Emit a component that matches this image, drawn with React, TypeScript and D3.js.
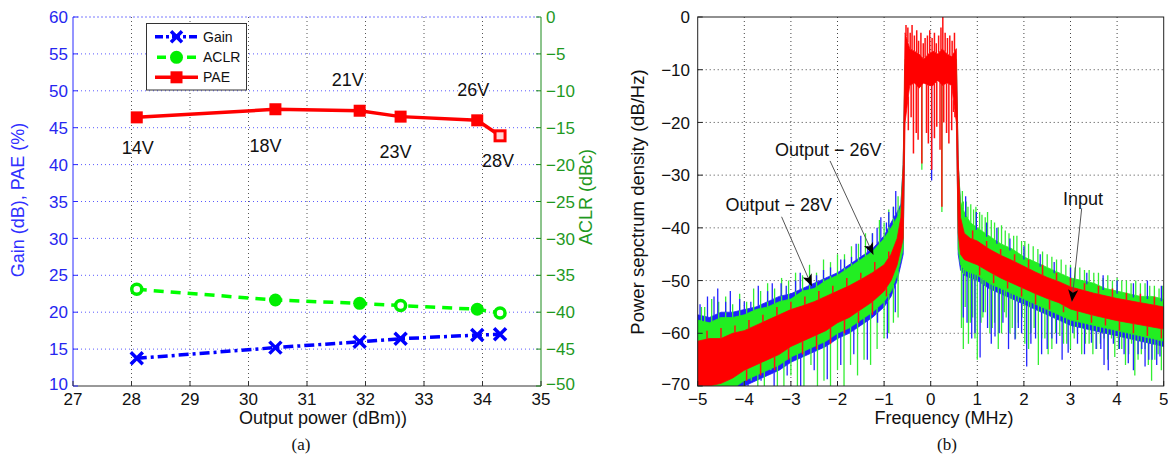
import React from 'react';
import * as d3 from 'd3';

// ---------- (a) data ----------
const powerOut = [28.09, 30.46, 31.9, 32.6, 33.91, 34.3];
const gainDb = [13.75, 15.2, 16.0, 16.4, 16.9, 17.0];
const aclrDbc = [-36.9, -38.35, -38.8, -39.1, -39.6, -40.1];
const paePct = [46.4, 47.5, 47.3, 46.5, 46.0, 43.9];
const aclrHollow = [true, false, false, true, false, true];
const supplyLabels = ['14V', '18V', '21V', '23V', '26V', '28V'];
const xTicksA = [27, 28, 29, 30, 31, 32, 33, 34, 35];
const yTicksLeft = [10, 15, 20, 25, 30, 35, 40, 45, 50, 55, 60];
const yTicksRight = [-50, -45, -40, -35, -30, -25, -20, -15, -10, -5, 0];

// ---------- (b) data ----------
const freqs = [-5, -4.75, -4.5, -4.25, -4, -3.75, -3.5, -3.25, -3, -2.75, -2.5, -2.25, -2, -1.75, -1.5, -1.25, -1, -0.85, -0.72, -0.64, -0.59, -0.55, -0.45, -0.35, -0.25, -0.15, -0.05, 0.05, 0.15, 0.25, 0.35, 0.45, 0.55, 0.59, 0.64, 0.72, 0.85, 1, 1.25, 1.5, 1.75, 2, 2.25, 2.5, 2.75, 3, 3.25, 3.5, 3.75, 4, 4.25, 4.5, 4.75, 5];
const redHi = [-61.5, -61, -61, -60, -59.5, -58.5, -57.5, -56.5, -55.5, -54.8, -54, -53, -52, -51, -49.8, -48.5, -47, -45, -42, -38, -28, -3, -6, -6.5, -7, -8, -7, -6.5, -7, -6, -7, -7.5, -6, -27, -38, -41, -42, -42.5, -44, -45.2, -46.2, -47.3, -48.4, -49.4, -50.2, -51.2, -51.8, -52.4, -52.9, -53.4, -53.8, -54.2, -54.6, -55];
const redLo = [-70.5, -70, -69.5, -68.5, -67, -66, -65, -64, -62.5, -61.5, -60.5, -59.5, -58, -57, -55.5, -54, -52, -50, -47, -44, -42, -20, -13, -12.5, -13.5, -12.5, -13, -13, -12, -13, -12.5, -13, -20, -41, -45, -46, -46.5, -47, -48.3, -49.5, -50.5, -51.5, -52.5, -53.4, -54.2, -55.4, -56, -56.6, -57.1, -57.6, -58, -58.4, -58.8, -59.2];
const greenHi = [-57.5, -58, -57, -57, -56.5, -55.5, -55, -54, -53.5, -52, -51.5, -50, -49, -47.5, -46, -44.5, -42, -40, -38, -36, -28, -8, -8, -8, -8, -8, -8, -8, -8, -8, -8, -8, -8, -28, -35, -37, -39, -40, -41.5, -43, -44, -45.5, -46.5, -47.5, -48.5, -49.5, -50, -50.5, -51.5, -52, -52.5, -53, -53, -53.5];
const greenLo = [-70.5, -70.5, -70.5, -70.5, -69, -68, -67, -66, -64.5, -63.5, -62.5, -61.5, -60, -59, -57.5, -56, -54, -52, -49, -46, -44, -12, -12, -12, -12, -12, -12, -12, -12, -12, -12, -12, -12, -44, -47, -48, -48.5, -49, -50.5, -51.5, -52.5, -53.5, -54.5, -55.5, -56.5, -57.5, -58, -58.5, -59, -59.5, -60, -60.5, -61, -61.5];
const blueHi = [-56.5, -57, -56, -56, -55.5, -55, -54, -53, -52.5, -51.5, -50.5, -49.5, -48.5, -47, -45.5, -44, -41.5, -39, -37, -35.5, -28, -9, -9, -9, -9, -9, -9, -9, -9, -9, -9, -9, -9, -28, -35.5, -37.5, -39.5, -40.5, -42, -43.5, -44.5, -46, -47, -48, -49, -50, -50.5, -51, -52, -52.5, -53, -53.5, -53.5, -54];
const blueLo = [-70.5, -70.5, -70.5, -70.5, -70, -69, -68, -67, -65.5, -64.5, -63.5, -62.5, -61, -60, -58.5, -57, -55, -53, -50, -47, -45, -12, -12, -12, -12, -12, -12, -12, -12, -12, -12, -12, -12, -45, -48, -49, -49.5, -50, -51.5, -52.5, -53.5, -54.5, -55.5, -56.5, -57.5, -58.5, -59, -59.5, -60, -60.5, -61, -61.5, -62, -62.5];

// individual spikes (frequency, extreme value)
const greenDownF = [-4.9, -4.75, -4.6, -4.45, -4.3, -4.15, -4.0, -3.85, -3.71, -3.57, -3.43, -3.29, -3.15, -3.0, -2.86, -2.72, -2.57, -2.43, -2.29, -2.15, -2.0, -1.86, -1.72, -1.57, -1.43, -1.29, -1.15, -1.0, -0.9, -0.8, -0.7, -0.19, 0.24, 0.66, 0.74, 0.81, 0.9, 1.0, 1.08, 1.17, 1.27, 1.37, 1.52, 1.62, 1.75, 1.88, 2.02, 2.15, 2.31, 2.45, 2.6, 2.77, 2.92, 3.08, 3.24, 3.4, 3.56, 3.72, 3.95, 4.1, 4.25, 4.38, 4.52, 4.67, 4.81, 4.95,
  0.7, 0.85, 0.95, 1.12, 1.32, 1.45, 1.58, 1.7, 1.82, 1.96, 2.1, 2.22, 2.38, 2.52, 2.68, 2.85, 3.0, 3.15, 3.32, 3.48, 3.64, 3.8, 3.88, 4.03, 4.18, 4.31, 4.45, 4.6, 4.74, 4.88];
const greenDownV = [-70, -70, -70, -70, -70, -70, -70, -69, -70, -70, -67, -70, -70, -68, -70, -70, -66, -70, -69, -70, -67, -70, -66, -68, -65, -66, -63, -61, -60, -58, -57, -29, -37, -59, -55, -62, -57, -65, -58, -56, -60, -58, -60, -57, -59, -58, -62, -60, -66, -61, -63, -60.5, -62, -61, -64, -62, -63, -61, -64.5, -63, -64, -68, -64, -66, -65, -67,
  -63, -58, -61, -57, -59, -63, -56, -60, -61, -57, -63, -59, -61, -64, -60, -62, -63, -60, -62, -64, -62, -65, -61, -63, -66, -62, -65, -63, -69, -64];
const greenUpF = [-4.85, -4.55, -4.25, -3.95, -3.65, -3.35, -3.05, -2.75, -2.45, -2.15, -1.85, -1.55, -1.25, -1.0, -0.8, 0.7, 0.8, 0.92, 1.05, 1.17, 1.3, 1.45, 1.6, 1.78, 1.95, 2.1, 2.3, 2.5, 2.7, 2.9, 3.1, 3.3, 3.5, 3.7, 3.9, 4.1, 4.3, 4.5, 4.7, 4.9,
  -4.92, -4.7, -4.4, -4.1, -3.8, -3.5, -3.2, -2.9, -2.6, -2.3, -2.0, -1.7, -1.4, -1.1, -0.9, -0.7,
  0.68, 0.76, 0.86, 0.97, 1.1, 1.22, 1.37, 1.52, 1.68, 1.85, 2.02, 2.2, 2.4, 2.6, 2.8, 3.0, 3.2, 3.4, 3.6, 3.8, 4.0, 4.2, 4.4, 4.6, 4.8, 4.98];
const greenUpV = [-55, -54, -54.5, -54, -52, -51.5, -50, -49, -48.5, -46.5, -45, -43, -41, -39, -36, -35, -36, -36.5, -37, -38, -38.5, -40, -40.5, -41.5, -42.5, -43, -44, -45, -46, -47, -47.5, -48, -48.5, -49.5, -50, -50, -50.5, -50.5, -51, -51.5,
  -55, -53.5, -53, -52.5, -51.5, -50.5, -49.5, -48.5, -47, -46, -45, -43.5, -41, -38.5, -36.5, -34,
  -33, -35, -35.5, -36, -37.5, -37, -39, -39.5, -41, -41.5, -42.5, -43.5, -44.5, -45.5, -46, -47, -47.5, -48, -48.5, -49, -49.5, -50, -50, -50.5, -51, -51];
const blueDownF = [-4.82, -4.52, -4.22, -3.92, -3.64, -3.36, -3.08, -2.79, -2.5, -2.22, -1.93, -1.65, -1.36, -1.14, -0.93, -0.76, 0.02, 0.7, 0.95, 1.06, 1.22, 1.38, 1.55, 1.81, 1.95, 2.06, 2.25, 2.5, 2.7, 2.95, 3.15, 3.45, 3.65, 3.81, 4.05, 4.24, 4.45, 4.6, 4.75, 4.92,
  0.78, 0.88, 1.13, 1.3, 1.47, 1.67, 1.88, 2.15, 2.38, 2.6, 2.82, 3.05, 3.3, 3.55, 3.72, 3.92, 4.15, 4.35, 4.53, 4.68, 4.85];
const blueDownV = [-70, -70, -70, -70, -69, -70, -68, -70, -67, -68.7, -66, -64, -65, -58, -61, -56, -31, -57, -60, -64.6, -59, -60.6, -58, -61.2, -60, -66.3, -61, -63, -62, -63.7, -62, -61.8, -63, -67, -63, -65.7, -64, -66.3, -65, -64.4,
  -58, -61, -56, -62, -60, -63, -59, -62, -64, -61, -65, -60, -64, -63, -66, -62, -64, -67, -63, -65, -66];
const blueUpF = [-4.79, -4.57, -4.4, -4.1, -3.86, -3.5, -3.21, -2.9, -2.6, -2.3, -1.93, -1.7, -1.5, -1.25, -1.07, -0.9, -0.75, 0.75, 0.98, 1.2, 1.42, 1.7, 2.0, 2.35, 2.65, 3.0, 3.35, 3.7, 4.0, 4.35, 4.65, 4.95,
  -4.95, -4.65, -4.3, -4.0, -3.7, -3.4, -3.1, -2.8, -2.45, -2.15, -1.85, -1.6, -1.35, -1.15, -0.95, -0.8];
const blueUpV = [-53, -51.5, -54, -53.5, -54, -52, -50.5, -50, -49.5, -48, -46, -45.5, -41.5, -41, -38, -37, -33, -34, -37, -39, -40, -42, -43.5, -45, -46.5, -47.5, -48.5, -49, -50, -50.5, -50, -51,
  -54.5, -53, -52, -54, -51, -50.5, -51, -48.5, -49, -47.5, -46, -43, -43.5, -40, -39, -36];
const redUpF = [-4.8, -4.5, -4.2, -3.9, -3.6, -3.3, -3.0, -2.7, -2.4, -2.1, -1.8, -1.5, -1.2, -0.9, -0.53, -0.49, -0.44, -0.4, -0.35, -0.3, -0.26, -0.21, -0.16, -0.12, -0.07, -0.02, 0.03, 0.08, 0.12, 0.17, 0.22, 0.26, 0.31, 0.36, 0.41, 0.46, 0.51, 0.9, 1.2, 1.5, 1.8, 2.1, 2.4, 2.7, 3.0, 3.3, 3.6, 3.9, 4.2, 4.5, 4.8];
const redUpV = [-59.5, -59, -58.5, -57.5, -56.5, -55, -54, -53, -52, -51, -49.5, -48.5, -46.5, -44.5, -1.5, -2, -3, -1.5, -3.5, -2.5, -4.5, -3, -5, -4, -3.5, -2.5, -4, -3, -5, -3.5, -2, 0, -3, -4, -3.5, -4.5, -3, -40.5, -42.5, -44, -45, -46, -47, -48.5, -49.5, -50.5, -51, -51.5, -52.3, -52.5, -53];
const redDownF = [-3.95, -3.65, -3.35, -3.05, -2.75, -2.45, -2.15, -1.85, -1.55, -1.25, -0.95, -0.48, -0.42, -0.37, -0.31, -0.27, -0.19, -0.09, -0.05, 0.02, 0.08, 0.13, 0.2, 0.24, 0.28, 0.34, 0.39, 0.45, 0.49, 0.52, 1.05, 1.35, 1.65, 1.95, 2.25, 2.55, 2.85, 3.15, 3.45, 3.75, 4.05, 4.35, 4.65, 4.95];
const redDownV = [-69, -68, -67, -65, -64, -63, -62, -60, -58, -56.5, -53, -21.5, -19, -25.9, -22, -23.3, -27.8, -22, -24, -29, -23, -20.8, -25.2, -36, -20, -22, -24, -21.5, -18, -19, -49, -50.5, -51.5, -53, -54.5, -55.5, -56, -57.5, -58, -58.5, -59.5, -60, -60.5, -61];
const xTicksB = [-5, -4, -3, -2, -1, 0, 1, 2, 3, 4, 5];
const yTicksB = [-70, -60, -50, -40, -30, -20, -10, 0];

// annotations: text position, arrow start, arrow tip (data coords of panel b)
const annoText = ['Output \u2212 26V', 'Output \u2212 28V', 'Input'];
const annoTextF = [-2.2, -3.26, 3.27];
const annoTextV = [-26.4, -36.8, -35.7];
const annoFromF = [-2.16, -3.2, 3.24];
const annoFromV = [-27.3, -37.9, -36.3];
const annoTipF = [-1.23, -2.55, 3.03];
const annoTipV = [-45.1, -51.1, -54.0];

const FONT = '"Liberation Sans", Arial, Helvetica, sans-serif';

export default function App() {
  const xA = d3.scaleLinear().domain([27, 35]).range([73, 541]);
  const yL = d3.scaleLinear().domain([10, 60]).range([386, 17]);
  const yR = d3.scaleLinear().domain([-50, 0]).range([386, 17]);
  const xB = d3.scaleLinear().domain([-5, 5]).range([697.7, 1163.7]);
  const yB = d3.scaleLinear().domain([-70, 0]).range([386, 17]);

  const gainPath = d3.line<number>().x((_, i) => xA(powerOut[i])).y((d) => yL(d))(gainDb) || '';
  const paePath = d3.line<number>().x((_, i) => xA(powerOut[i])).y((d) => yL(d))(paePct) || '';
  const aclrPath = d3.line<number>().x((_, i) => xA(powerOut[i])).y((d) => yR(d))(aclrDbc) || '';

  const band = (hi: number[], lo: number[]) =>
    d3.area<number>().x((f) => xB(f)).y0((_, i) => yB(lo[i])).y1((_, i) => yB(hi[i]))(freqs) || '';

  const interp = (arr: number[]) => d3.scaleLinear().domain(freqs).range(arr);
  const rLo = interp(redLo), gLo = interp(greenLo), bLo = interp(blueLo);
  const rHi = interp(redHi), gHi = interp(greenHi), bHi = interp(blueHi);

  const spikes = (F: number[], V: number[], base: (f: number) => number, color: string, key: string, w = 1.3) =>
    F.map((f, i) => (
      <line key={key + i} x1={xB(f)} x2={xB(f)} y1={yB(base(f))} y2={yB(V[i])} stroke={color} strokeWidth={w} />
    ));

  const xMarker = (cx: number, cy: number, s: number, key: string) => (
    <path key={key} d={`M${cx - s},${cy - s}L${cx + s},${cy + s}M${cx - s},${cy + s}L${cx + s},${cy - s}`} stroke="#0000ff" strokeWidth={3.5} />
  );

  const labelDx = [1, -10, -12, -5, -4, -2];
  const labelDy = [37, 43, -25, 41, -24, 31];

  return (
    <svg width={1168} height={458} style={{ position: 'absolute', left: 0, top: 0, background: '#fff' }} fontFamily={FONT}>
      <defs>
        <clipPath id="clipB">
          <rect x={697.7} y={17} width={466} height={369} />
        </clipPath>
        <marker id="arrowHead" viewBox="0 0 12 10" refX={12} refY={5} markerWidth={13} markerHeight={10} orient="auto" markerUnits="userSpaceOnUse">
          <path d="M0,0 L12,5 L0,10 L3,5 Z" fill="#000" />
        </marker>
      </defs>
      <rect x={0} y={0} width={1168} height={458} fill="#fff" />

      {/* ================= Panel (a) ================= */}
      {xTicksA.slice(1, -1).map((t) => (
        <line key={'gxa' + t} x1={xA(t)} x2={xA(t)} y1={17} y2={386} stroke="#555" strokeWidth={1} strokeDasharray="1,3" />
      ))}
      {yTicksLeft.slice(1, -1).map((t) => (
        <line key={'gya' + t} x1={73} x2={541} y1={yL(t)} y2={yL(t)} stroke="#5a5aff" strokeWidth={1} strokeDasharray="1,3" />
      ))}
      <line x1={73} x2={541} y1={17} y2={17} stroke="#7a7aff" strokeWidth={1} strokeDasharray="2,2" />
      <line x1={73} x2={541} y1={386} y2={386} stroke="#333" strokeWidth={1} />
      <line x1={73} x2={73} y1={17} y2={386} stroke="#2a2aff" strokeWidth={1} />
      <line x1={541} x2={541} y1={17} y2={386} stroke="#1a8a1a" strokeWidth={1} />
      {yTicksLeft.map((t) => (
        <g key={'tl' + t}>
          <line x1={73} x2={78} y1={yL(t)} y2={yL(t)} stroke="#2a2aff" />
          <text x={68} y={yL(t) - (t === 10 ? 2 : 0)} dy="0.36em" textAnchor="end" fontSize={17} fill="#2626f0">{t}</text>
        </g>
      ))}
      {yTicksRight.map((t) => (
        <g key={'tr' + t}>
          <line x1={536} x2={541} y1={yR(t)} y2={yR(t)} stroke="#1a8a1a" />
          <text x={546} y={yR(t) - (t === -50 ? 2 : 0)} dy="0.36em" textAnchor="start" fontSize={17} fill="#1f991f">{t < 0 ? '\u2212' + Math.abs(t) : t}</text>
        </g>
      ))}
      {xTicksA.map((t) => (
        <g key={'tx' + t}>
          <line x1={xA(t)} x2={xA(t)} y1={386} y2={381} stroke="#333" />
          <text x={xA(t)} y={405} textAnchor="middle" fontSize={17} fill="#111">{t}</text>
        </g>
      ))}
      <text x={323} y={424} textAnchor="middle" fontSize={18} fill="#111">Output power (dBm))</text>
      <text transform="translate(18,200) rotate(-90)" dy="0.35em" textAnchor="middle" fontSize={18} fill="#3030ff">Gain (dB), PAE (%)</text>
      <text transform="translate(586,197) rotate(-90)" dy="0.35em" textAnchor="middle" fontSize={18} fill="#1f991f">ACLR (dBc)</text>

      <path d={gainPath} fill="none" stroke="#0000ff" strokeWidth={3.5} strokeDasharray="10,4,3,4" />
      {gainDb.map((g, i) => xMarker(xA(powerOut[i]), yL(g), 6, 'gm' + i))}
      <path d={aclrPath} fill="none" stroke="#00ff00" strokeWidth={3.5} strokeDasharray="10,7" />
      {aclrDbc.map((a, i) =>
        aclrHollow[i] ? (
          <circle key={'am' + i} cx={xA(powerOut[i])} cy={yR(a)} r={5} fill="#fff" stroke="#00ee00" strokeWidth={3.5} />
        ) : (
          <circle key={'am' + i} cx={xA(powerOut[i])} cy={yR(a)} r={6.5} fill="#00ee00" />
        )
      )}
      <path d={paePath} fill="none" stroke="#ff0000" strokeWidth={3.5} />
      {paePct.map((p, i) =>
        i === paePct.length - 1 ? (
          <rect key={'pm' + i} x={xA(powerOut[i]) - 5} y={yL(p) - 5} width={10} height={10} fill="#ffd6d6" stroke="#ff0000" strokeWidth={3} />
        ) : (
          <rect key={'pm' + i} x={xA(powerOut[i]) - 6} y={yL(p) - 6} width={12} height={12} fill="#ff0000" />
        )
      )}
      {supplyLabels.map((s, i) => (
        <text key={'sl' + s} x={xA(powerOut[i]) + labelDx[i]} y={yL(paePct[i]) + labelDy[i]} textAnchor="middle" fontSize={18} fill="#111">{s}</text>
      ))}

      <rect x={146.5} y={23.5} width={100} height={66.5} fill="#fff" stroke="#333" strokeWidth={1} />
      <line x1={155} x2={198} y1={36.7} y2={36.7} stroke="#0000ff" strokeWidth={3.5} strokeDasharray="8,3,3,3" />
      {xMarker(176.5, 36.7, 5.5, 'lg1')}
      <text x={203} y={36.7} dy="0.36em" fontSize={14} fill="#111">Gain</text>
      <line x1={155} x2={198} y1={57.3} y2={57.3} stroke="#00ff00" strokeWidth={3.5} strokeDasharray="9,6" strokeDashoffset={-2} />
      <circle cx={176.5} cy={57.3} r={6.5} fill="#00ee00" />
      <text x={203} y={57.3} dy="0.36em" fontSize={14} fill="#111">ACLR</text>
      <line x1={155} x2={198} y1={77.3} y2={77.3} stroke="#ff0000" strokeWidth={3.5} />
      <rect x={170.5} y={71.3} width={12} height={12} fill="#ff0000" />
      <text x={203} y={77.3} dy="0.36em" fontSize={14} fill="#111">PAE</text>

      <text x={301} y={450} textAnchor="middle" fontSize={17} fontFamily='"Liberation Serif", "Times New Roman", serif' fill="#111">(a)</text>

      {/* ================= Panel (b) ================= */}
      {xTicksB.slice(1, -1).map((t) => (
        <line key={'gxb' + t} x1={xB(t)} x2={xB(t)} y1={17} y2={386} stroke="#444" strokeWidth={1} strokeDasharray="1,3" />
      ))}
      {yTicksB.slice(1, -1).map((t) => (
        <line key={'gyb' + t} x1={697.7} x2={1163.7} y1={yB(t)} y2={yB(t)} stroke="#444" strokeWidth={1} strokeDasharray="1,3" />
      ))}

      <g clipPath="url(#clipB)">
        <path d={band(blueHi, blueLo)} fill="#2020ff" stroke="#2020ff" strokeWidth={0.8} />
        <path d={band(greenHi, greenLo)} fill="#22ee22" stroke="#22ee22" strokeWidth={0.8} />
        {spikes(greenDownF, greenDownV, gLo, '#33ee33', 'gd')}
        {spikes(greenUpF, greenUpV, gHi, '#33ee33', 'gu')}
        {spikes(blueDownF, blueDownV, bLo, '#2424ff', 'bd')}
        {spikes(blueUpF, blueUpV, bHi, '#2424ff', 'bu')}
        <path d={band(redHi, redLo)} fill="#ff0000" stroke="#ff0000" strokeWidth={0.8} />
        {spikes(redUpF, redUpV, rHi, '#ff1010', 'ru', 1.5)}
        {spikes(redDownF, redDownV, rLo, '#ff1010', 'rd', 1.5)}
      </g>

      <rect x={697.7} y={17} width={466} height={369} fill="none" stroke="#222" strokeWidth={1} />
      {yTicksB.map((t) => (
        <g key={'tyb' + t}>
          <line x1={697.7} x2={702.7} y1={yB(t)} y2={yB(t)} stroke="#222" />
          <text x={690} y={yB(t) - (t === -70 ? 2 : 0)} dy="0.36em" textAnchor="end" fontSize={17} fill="#111">{t < 0 ? '\u2212' + Math.abs(t) : t}</text>
        </g>
      ))}
      {xTicksB.map((t) => (
        <g key={'txb' + t}>
          <line x1={xB(t)} x2={xB(t)} y1={386} y2={381} stroke="#222" />
          <text x={xB(t)} y={405} textAnchor="middle" fontSize={17} fill="#111">{t < 0 ? '\u2212' + Math.abs(t) : t}</text>
        </g>
      ))}
      <text x={944} y={424} textAnchor="middle" fontSize={18} fill="#111">Frequency (MHz)</text>
      <text transform="translate(638,202) rotate(-90)" dy="0.35em" textAnchor="middle" fontSize={18.5} fill="#111">Power sepctrum density (dB/Hz)</text>

      {annoText.map((t, i) => (
        <g key={'an' + i}>
          <line x1={xB(annoFromF[i])} y1={yB(annoFromV[i])} x2={xB(annoTipF[i])} y2={yB(annoTipV[i])} stroke="#555" strokeWidth={1} markerEnd="url(#arrowHead)" />
          <text x={xB(annoTextF[i])} y={yB(annoTextV[i])} textAnchor="middle" fontSize={18} fill="#111">{t}</text>
        </g>
      ))}

      <text x={947} y={450} textAnchor="middle" fontSize={17} fontFamily='"Liberation Serif", "Times New Roman", serif' fill="#111">(b)</text>
    </svg>
  );
}
